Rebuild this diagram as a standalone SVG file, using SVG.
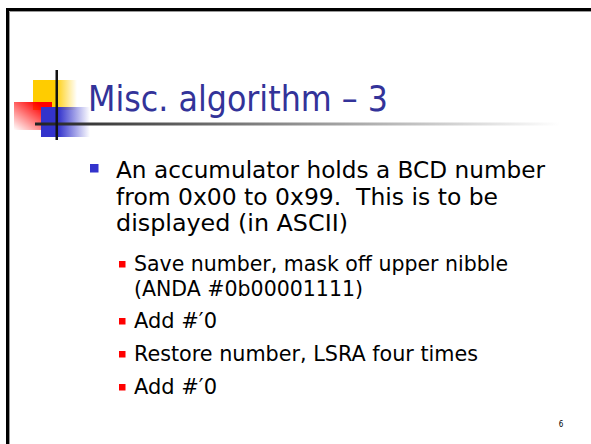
<svg xmlns="http://www.w3.org/2000/svg" width="591" height="444" viewBox="0 0 591 444">
<style>
.body{font-family:"DejaVu Sans","DejaVu Sans Condensed",sans-serif;fill:#000;font-size:23px}
.sub{font-family:"DejaVu Sans","DejaVu Sans Condensed",sans-serif;fill:#000;font-size:21.5px}
.title{font-family:"DejaVu Sans Condensed","DejaVu Sans",sans-serif;fill:#333399;font-size:35px}
.b1{fill:#3333CC}
.b2{fill:#FF0000}
</style>
<defs>
<linearGradient id="gy" x1="0" y1="0" x2="1" y2="0"><stop offset="0.5" stop-color="#FFCC00"/><stop offset="1" stop-color="#FFCC00" stop-opacity="0"/></linearGradient>
<linearGradient id="gr" x1="0" y1="1" x2="1" y2="0"><stop offset="0" stop-color="#FF0000" stop-opacity="0"/><stop offset="0.8" stop-color="#FF0000"/></linearGradient>
<linearGradient id="gb" x1="0" y1="0" x2="1" y2="0"><stop offset="0.35" stop-color="#3333CC"/><stop offset="1" stop-color="#3333CC" stop-opacity="0"/></linearGradient>
<linearGradient id="gl" x1="0" y1="0" x2="1" y2="0"><stop offset="0" stop-color="#222"/><stop offset="1" stop-color="#fff"/></linearGradient>
</defs>
<rect width="591" height="444" fill="#fff"/>
<g id="frame">
<path d="M7.5,444 V9.5 H591" fill="none" stroke="#000" stroke-width="3"/>
<path d="M9.5,444 V11.5 H591" fill="none" stroke="#999" stroke-width="1"/>
</g>
<g id="logo">
<rect x="33" y="80" width="44" height="30" fill="url(#gy)"/>
<rect x="14" y="102" width="38" height="28" fill="url(#gr)"/>
<rect x="41" y="107" width="49" height="30" fill="url(#gb)"/>
<rect x="35" y="122.5" width="525" height="3" fill="url(#gl)"/>
<rect x="55.5" y="70" width="2.5" height="70" fill="#111"/>
</g>
<g id="title"><text class="title" x="88" y="111" textLength="300" lengthAdjust="spacingAndGlyphs">Misc. algorithm – 3</text></g>
<g id="bullets">
<rect class="b1" x="90" y="164" width="8.5" height="8.5"/>
<text class="body" x="116" y="178" textLength="429" lengthAdjust="spacingAndGlyphs">An accumulator holds a BCD number</text>
<text class="body" x="116" y="204.5" textLength="382" lengthAdjust="spacingAndGlyphs" xml:space="preserve">from 0x00 to 0x99.  This is to be</text>
<text class="body" x="116" y="231" textLength="232" lengthAdjust="spacingAndGlyphs">displayed (in ASCII)</text>
<rect class="b2" x="119" y="261" width="6.5" height="6.5"/>
<text class="sub" x="134" y="271" textLength="374" lengthAdjust="spacingAndGlyphs">Save number, mask off upper nibble</text>
<text class="sub" x="134" y="296" textLength="229" lengthAdjust="spacingAndGlyphs">(ANDA #0b00001111)</text>
<rect class="b2" x="119" y="318" width="6.5" height="6.5"/>
<text class="sub" x="134" y="328" textLength="83" lengthAdjust="spacingAndGlyphs">Add #′0</text>
<rect class="b2" x="119" y="351" width="6.5" height="6.5"/>
<text class="sub" x="134" y="361" textLength="344" lengthAdjust="spacingAndGlyphs">Restore number, LSRA four times</text>
<rect class="b2" x="119" y="384" width="6.5" height="6.5"/>
<text class="sub" x="134" y="394" textLength="83" lengthAdjust="spacingAndGlyphs">Add #′0</text>
</g>
<g id="page"><text x="561" y="427" style="font-family:'DejaVu Sans Condensed','DejaVu Sans',sans-serif;font-size:8px;fill:#000" text-anchor="middle">6</text></g>
</svg>
